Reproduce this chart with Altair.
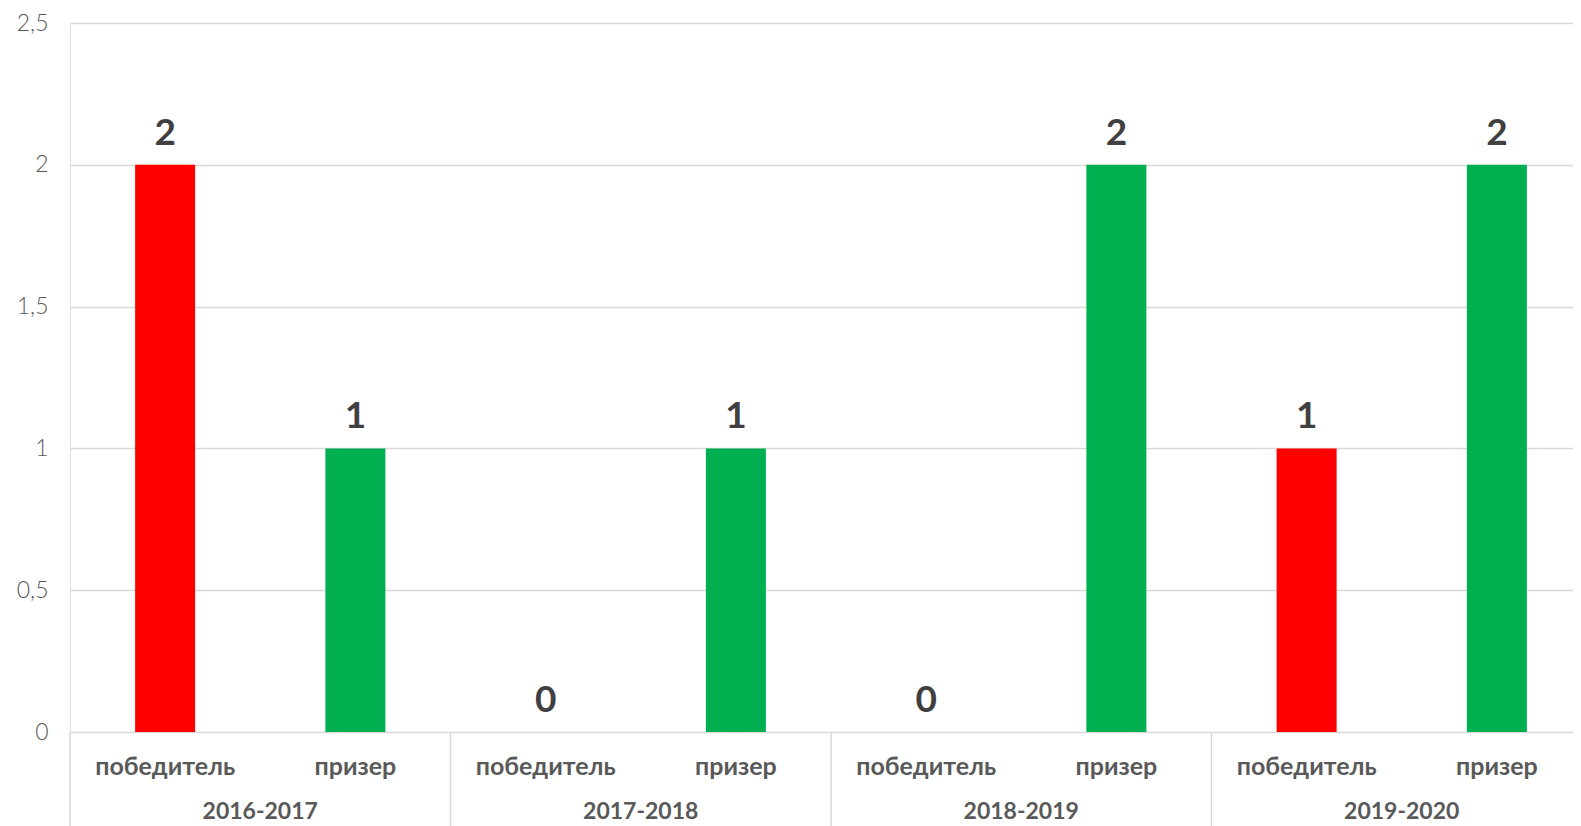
import altair as alt
import pandas as pd

# --- data ---
years = ["2016-2017", "2017-2018", "2018-2019", "2019-2020"]
roles = ["победитель", "призер"]
values = [2, 1, 0, 1, 0, 2, 1, 2]
role_colors = ["#FF0000", "#00B050"]
y_ticks = [0, 0.5, 1, 1.5, 2, 2.5]

rows = []
for gi, yr in enumerate(years):
    for ri, rl in enumerate(roles):
        idx = gi * len(roles) + ri
        rows.append({"year": yr, "role": rl, "value": values[idx], "pos": idx + 0.5})
df = pd.DataFrame(rows)

groups = pd.DataFrame({"year": years,
                       "center": [gi * 2 + 1 for gi in range(len(years))],
                       "sep": [gi * 2 for gi in range(len(years))]})

W = 1503
H = 709
STEP = 190.25  # px per category slot
xscale = alt.Scale(domain=[0, W / STEP], nice=False, zero=False, padding=0)
yscale = alt.Scale(domain=[0, 2.5], nice=False)

FONT = "Lato"

base = alt.Chart(df)

yaxis = alt.Axis(values=y_ticks, title=None, ticks=False, domain=False,
                 grid=True, gridColor="#D9D9D9", gridWidth=1.5,
                 labelFont=FONT, labelFontSize=23, labelFontWeight=300,
                 labelColor="#595959", labelPadding=22,
                 labelExpr="replace(format(datum.value, '~g'), '.', ',')")

bars = base.mark_bar(size=60).encode(
    x=alt.X("pos:Q", scale=xscale, axis=None),
    y=alt.Y("value:Q", scale=yscale, axis=yaxis),
    color=alt.Color("role:N", scale=alt.Scale(domain=roles, range=role_colors), legend=None),
)

value_labels = base.mark_text(fontSize=37, fontWeight="bold", font=FONT, color="#404040",
                              baseline="middle", dy=-31).encode(
    x=alt.X("pos:Q", scale=xscale, axis=None),
    y=alt.Y("value:Q", scale=yscale, axis=yaxis),
    text=alt.Text("value:Q"),
)

role_labels = base.mark_text(fontSize=25, fontWeight="bold", font=FONT, color="#595959",
                             baseline="middle").encode(
    x=alt.X("pos:Q", scale=xscale, axis=None),
    y=alt.value(744),
    text="role:N",
)

gchart = alt.Chart(groups)
year_labels = gchart.mark_text(fontSize=23, fontWeight="bold", font=FONT, color="#595959",
                               baseline="middle").encode(
    x=alt.X("center:Q", scale=xscale, axis=None),
    y=alt.value(789),
    text="year:N",
)

separators = gchart.mark_rule(color="#D9D9D9", strokeWidth=1.5).encode(
    x=alt.X("sep:Q", scale=xscale, axis=None),
    y=alt.value(H),
    y2=alt.value(H + 100),
)

chart = alt.layer(bars, value_labels, role_labels, year_labels, separators).properties(
    width=W, height=H,
    padding={"left": 62, "top": 15, "right": 0, "bottom": 99},
    autosize=alt.AutoSizeParams(type="none"),
).configure_view(strokeWidth=0, stroke="transparent").configure_axis(domain=False).configure(background="white")

chart.save("out.html", embed_options={"renderer": "svg", "actions": False})
